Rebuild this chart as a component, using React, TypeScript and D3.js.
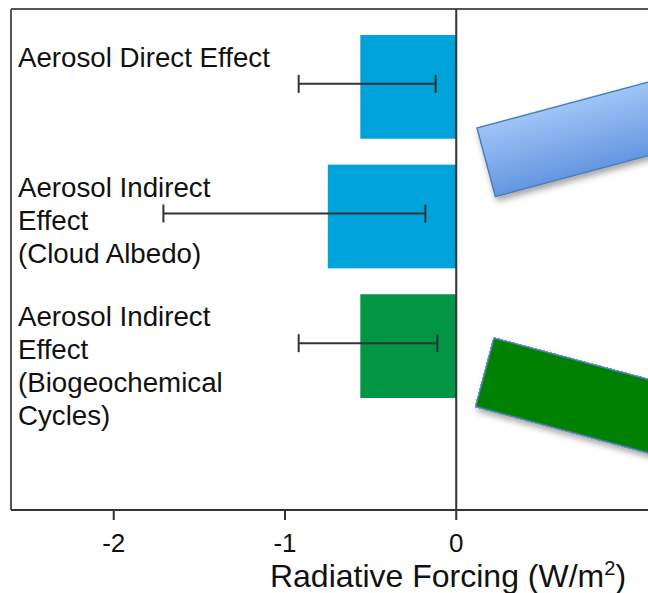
import React from "react";
import * as d3 from "d3";

const categories = ["direct", "cloud", "bio"];
const labelLines = [
  ["Aerosol Direct Effect"],
  ["Aerosol Indirect", "Effect", "(Cloud Albedo)"],
  ["Aerosol Indirect", "Effect", "(Biogeochemical", "Cycles)"],
];
const values = [-0.56, -0.75, -0.56];
const errLow = [-0.92, -1.71, -0.92];
const errHigh = [-0.12, -0.18, -0.11];
const barColors = ["#00a3d9", "#00a3d9", "#009645"];
const tickValues = [-2, -1, 0];

const W = 648;
const H = 593;
const FONT = "'Liberation Sans', Arial, Helvetica, sans-serif";

export default function App() {
  const x = d3.scaleLinear().domain([-2.6, 1.12]).range([11, 648]);
  const y = d3
    .scaleBand<string>()
    .domain(categories)
    .range([35, 398])
    .paddingInner(0.2)
    .paddingOuter(0);
  const top = 9;
  const axisY = 510;
  const x0 = x(0);

  return (
    <svg
      width={W}
      height={H}
      style={{ position: "absolute", left: 0, top: 0, background: "#fff" }}
      fontFamily={FONT}
    >
      <defs>
        <linearGradient id="blueGrad" x1="0" y1="0" x2="0" y2="1">
          <stop offset="0" stopColor="#9fc5f7" />
          <stop offset="1" stopColor="#6496e0" />
        </linearGradient>
        <filter id="shadow" x="-20%" y="-30%" width="140%" height="170%">
          <feDropShadow dx="2" dy="4" stdDeviation="3" floodColor="#000" floodOpacity="0.35" />
        </filter>
      </defs>

      {/* frame */}
      <line x1={11} x2={W} y1={top} y2={top} stroke="#555" strokeWidth={2} />
      <line x1={11} x2={11} y1={top} y2={axisY} stroke="#555" strokeWidth={2} />
      <line x1={11} x2={W} y1={axisY} y2={axisY} stroke="#333" strokeWidth={2} />

      {/* bars */}
      {categories.map((c, i) => (
        <rect
          key={c}
          x={x(values[i])}
          y={y(c)}
          width={x0 - x(values[i])}
          height={y.bandwidth()}
          fill={barColors[i]}
        />
      ))}

      {/* zero line */}
      <line x1={x0} x2={x0} y1={top} y2={axisY} stroke="#333" strokeWidth={2} />

      {/* error bars */}
      {categories.map((c, i) => {
        const cy = (y(c) as number) + y.bandwidth() / 2 - 3;
        return (
          <g key={c} stroke="#333" strokeWidth={2}>
            <line x1={x(errLow[i])} x2={x(errHigh[i])} y1={cy} y2={cy} />
            <line x1={x(errLow[i])} x2={x(errLow[i])} y1={cy - 9} y2={cy + 9} />
            <line x1={x(errHigh[i])} x2={x(errHigh[i])} y1={cy - 9} y2={cy + 9} />
          </g>
        );
      })}

      {/* category labels */}
      {categories.map((c, i) => (
        <text
          key={c}
          x={18}
          y={(y(c) as number) + y.bandwidth() / 2 - 20}
          fontSize={27.7}
          fill="#111"
        >
          {labelLines[i].map((l, j) => (
            <tspan key={j} x={18} dy={j === 0 ? 0 : 33}>
              {l}
            </tspan>
          ))}
        </text>
      ))}

      {/* ticks */}
      {tickValues.map((t) => (
        <g key={t}>
          <line x1={x(t)} x2={x(t)} y1={axisY} y2={axisY + 10} stroke="#333" strokeWidth={2} />
          <text x={x(t)} y={552} textAnchor="middle" fontSize={26} fill="#111">
            {t}
          </text>
        </g>
      ))}

      {/* axis title */}
      <text x={448} y={587} textAnchor="middle" fontSize={32} fill="#111">
        Radiative Forcing (W/m
        <tspan dy={-12} fontSize={20}>2</tspan>
        <tspan dy={12}>)</tspan>
      </text>

      {/* decorative arrows */}
      <g filter="url(#shadow)">
        <rect
          x={0}
          y={0}
          width={320}
          height={71}
          transform="translate(477,128) rotate(-15)"
          fill="url(#blueGrad)"
          stroke="#4a7ebb"
          strokeWidth={1.5}
        />
        <rect
          x={0}
          y={0}
          width={320}
          height={71}
          transform="translate(494,338) rotate(15)"
          fill="#008000"
          stroke="#4a7ebb"
          strokeWidth={1.5}
        />
      </g>
    </svg>
  );
}
